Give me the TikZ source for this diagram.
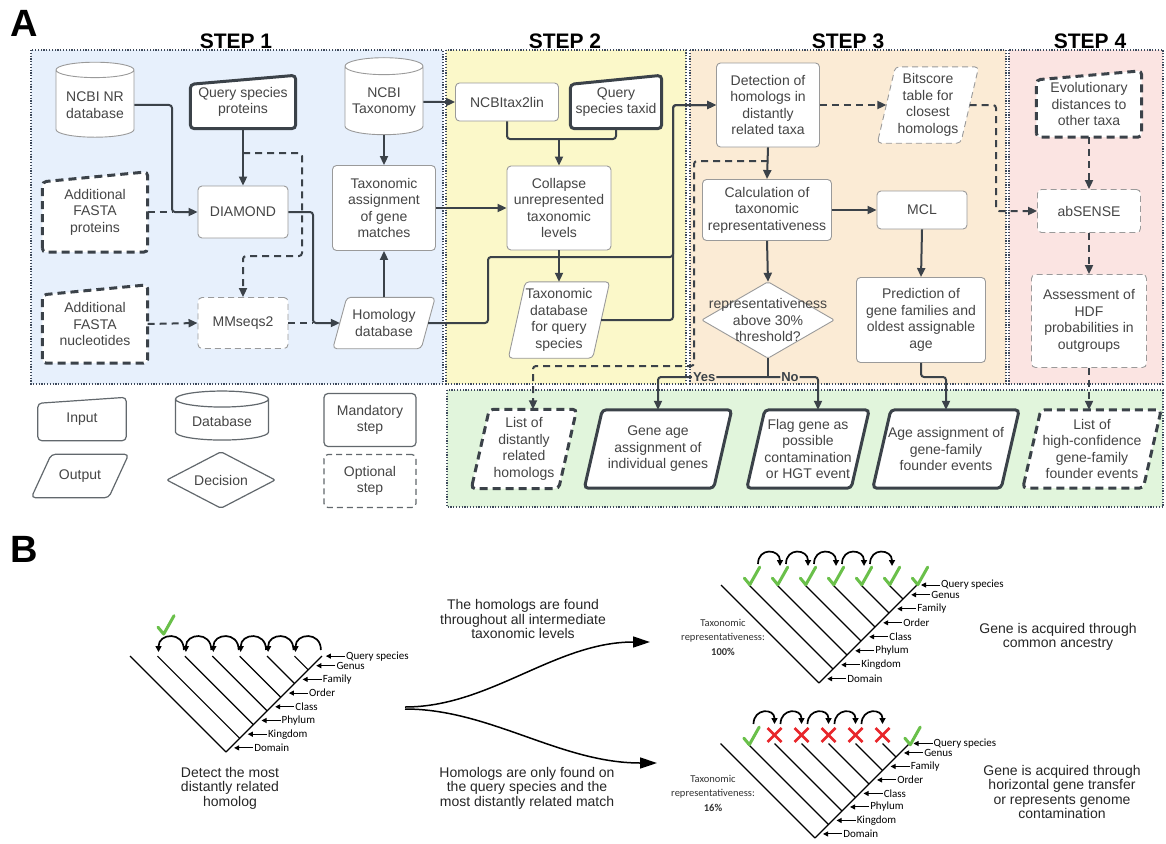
\documentclass[tikz,border=0pt]{standalone}
\usepackage{fontspec}
\setmainfont{Liberation Sans}
\newfontfamily\rankfont{Carlito}
\usetikzlibrary{positioning,calc,arrows.meta,shapes.geometric}

\definecolor{ink}{HTML}{3B4249}
\definecolor{boxtext}{HTML}{454545}
\definecolor{rim}{HTML}{9A9A9A}
\definecolor{dotrim}{HTML}{3E4A5C}
\definecolor{bluebg}{HTML}{E7F0FC}
\definecolor{yellowbg}{HTML}{FBF8C9}
\definecolor{orangebg}{HTML}{FBEBD5}
\definecolor{pinkbg}{HTML}{FBE4E2}
\definecolor{greenbg}{HTML}{E1F5DC}
\definecolor{tick}{HTML}{6AC04A}
\definecolor{wrong}{HTML}{E8262B}

\pgfdeclarelayer{back}
\pgfdeclarelayer{shapes}
\pgfsetlayers{back,shapes,main}

\tikzstyle{line} = [draw=ink,line width=2pt,rounded corners=3pt,-{Triangle[length=9pt,width=8pt]}]
\tikzstyle{link} = [draw=ink,line width=2pt,rounded corners=3pt]
\tikzstyle{dashedline} = [line,dash pattern=on 7pt off 5pt]
\tikzstyle{dashedlink} = [link,dash pattern=on 7pt off 5pt]
\tikzstyle{region} = [draw=dotrim,line width=1.6pt,dash pattern=on 1.2pt off 1.6pt]
\tikzstyle{steptitle} = [font=\bfseries\fontsize{21}{21}\selectfont]
\tikzstyle{panel} = [font=\bfseries\fontsize{38}{38}\selectfont]
\tikzstyle{boxfont} = [text=boxtext,align=center,font=\fontsize{14}{16.5}\selectfont,inner sep=2pt]
\tikzstyle{stepbox} = [boxfont,rectangle,rounded corners=4pt,draw=rim,line width=0.9pt,fill=white]
\tikzstyle{optbox} = [stepbox,dash pattern=on 6pt off 4pt]
\tikzstyle{dbase} = [boxfont,cylinder,shape border rotate=90,aspect=0.25,draw=rim,line width=0.9pt,fill=white]
\tikzstyle{shapetext} = [boxfont,inner sep=0pt]
\tikzstyle{keyrim} = [draw=ink,line width=3pt]
\tikzstyle{keydash} = [keyrim,dash pattern=on 8pt off 5pt]
\tikzstyle{thinrim} = [draw=rim,line width=0.9pt]
\tikzstyle{thindash} = [thinrim,dash pattern=on 6pt off 4pt]
\tikzstyle{legrim} = [draw=ink!80,line width=1.2pt]
\tikzstyle{yesno} = [fill=orangebg,text=ink,font=\bfseries\fontsize{13}{13}\selectfont,inner sep=1pt]
\tikzstyle{branch} = [draw=black,line width=1.2pt]
\tikzstyle{rankname} = [anchor=west,inner sep=1pt,font=\rankfont\fontsize{11}{11}\selectfont]
\tikzstyle{rankarrow} = [draw=black,line width=1pt,-{Triangle[length=5pt,width=5pt]}]
\tikzstyle{hop} = [draw=black,line width=1.7pt,-{Triangle[length=6pt,width=6pt]}]
\tikzstyle{btext} = [align=center,text=black!85,font=\fontsize{14}{14.5}\selectfont]
\tikzstyle{reptext} = [align=center,text=black!80,font=\rankfont\fontsize{10.5}{14.5}\selectfont]
\tikzstyle{splitarrow} = [draw=black,line width=1.5pt,-{Triangle[length=17pt,width=11pt]}]

% outlines drawn behind the text of a node
\newcommand{\inputshape}[3][]{%
  \begin{pgfonlayer}{shapes}
    \draw[fill=white,rounded corners=4pt,#1] (#2.south west) -- ([yshift=-#3pt]#2.north west)
      -- (#2.north east) -- (#2.south east) -- cycle;
  \end{pgfonlayer}}
\newcommand{\outputshape}[3][]{%
  \begin{pgfonlayer}{shapes}
    \draw[fill=white,rounded corners=4pt,#1] ([xshift=-#3pt]#2.south west) -- ([xshift=#3pt]#2.north west)
      -- ([xshift=#3pt]#2.north east) -- ([xshift=-#3pt]#2.south east) -- cycle;
  \end{pgfonlayer}}
\newcommand{\decisionshape}[2][]{%
  \begin{pgfonlayer}{shapes}
    \draw[fill=white,rounded corners=2pt,#1] (#2.west) -- (#2.north) -- (#2.east) -- (#2.south) -- cycle;
  \end{pgfonlayer}}
% tree of taxonomic levels, spacing \tstep
\newcommand{\taxtree}[3]{%
  \begin{scope}[shift={(#2,#3)}]
    \draw[branch] (0,0) -- ({7*\tstep},{-7*\tstep});
    \foreach \k in {0,...,6}
      \draw[branch] ({\k*\tstep},{-\k*\tstep}) -- ({(2*\k-7)*\tstep},{-7*\tstep});
    \foreach \lvl [count=\k from 0] in {Domain,Kingdom,Phylum,Class,Order,Family,Genus,Query species}{
      \pgfmathsetmacro\tpos{min(\k+0.3,7)}
      \node[rankname] (#1\k) at ({\tpos*\tstep+23},{-\tpos*\tstep}) {\lvl};
      \draw[rankarrow] (#1\k.west) -- ++(-19,0);
    }
  \end{scope}}

\begin{document}
\begin{tikzpicture}[x=1pt,y=-1pt,
  okmark/.pic={\draw[tick,line width=3pt,line cap=round,line join=round] (-7,1) -- (-2,7) -- (7,-9);},
  nomark/.pic={\draw[wrong,line width=2.6pt] (-7,-7) -- (7,7) (-7,7) -- (7,-7);}]
\useasboundingbox (0,0) rectangle (1166,843);

\begin{pgfonlayer}{back}
  \fill[white] (0,0) rectangle (1166,843);
  \draw[region,fill=bluebg] (31,50) rectangle (443,384);
  \draw[region,fill=yellowbg] (446,50) rectangle (686,384);
  \draw[region,fill=orangebg] (690,50) rectangle (1006,384);
  \draw[region,fill=pinkbg] (1009,50) rectangle (1163,384);
  \draw[region,fill=greenbg] (447,390) rectangle (1163,507);
\end{pgfonlayer}

\node[panel] (panelA) at (24,23) {A};
\node[panel] (panelB) at (24,549) {B};
\node[steptitle] (title1) at (236,41) {STEP 1};
\node[steptitle] (title2) at (565,41) {STEP 2};
\node[steptitle] (title3) at (848,41) {STEP 3};
\node[steptitle] (title4) at (1090,41) {STEP 4};

% step 1
\node[dbase,minimum width=78pt,minimum height=75pt] (nr) at (95,105) {NCBI NR\\database};
\node[shapetext,minimum width=105pt,minimum height=53pt] (qprot) at (243,102) {Query species\\proteins};
\inputshape[keyrim]{qprot}{9}
\node[shapetext,minimum width=105pt,minimum height=80pt] (addprot) at (95,212) {Additional\\FASTA\\proteins};
\inputshape[keydash]{addprot}{10}
\node[stepbox,minimum width=90pt,minimum height=52pt] (diamondtool) at (243,212) {DIAMOND};
\node[dbase,minimum width=78pt,minimum height=77pt] (ncbitax) at (384,102) {NCBI\\Taxonomy};
\node[stepbox,minimum width=103pt,minimum height=85pt] (taxassign) at (384,208) {Taxonomic\\assignment\\of gene\\matches};
\node[shapetext,minimum width=105pt,minimum height=78pt] (addnuc) at (95,324) {Additional\\FASTA\\nucleotides};
\inputshape[keydash]{addnuc}{10}
\node[optbox,minimum width=90pt,minimum height=51pt] (mmseqs) at (243,323) {MMseqs2};
\node[shapetext,minimum width=88pt,minimum height=51pt] (homdb) at (384,323) {Homology\\database};
\outputshape[thinrim]{homdb}{7}

% step 2
\node[stepbox,minimum width=103pt,minimum height=38pt] (tax2lin) at (507,102) {NCBItax2lin};
\node[shapetext,minimum width=91pt,minimum height=53pt] (qtaxid) at (616,102) {Query\\species taxid};
\inputshape[keyrim]{qtaxid}{9}
\node[stepbox,minimum width=104pt,minimum height=84pt] (collapse) at (559,208) {Collapse\\unrepresented\\taxonomic\\levels};
\node[shapetext,minimum width=84pt,minimum height=76pt] (taxdb) at (559,320) {Taxonomic\\database\\for query\\species};
\outputshape[thinrim]{taxdb}{8.5}

% step 3
\node[stepbox,minimum width=103pt,minimum height=84pt] (detect) at (768,105) {Detection of\\homologs in\\distantly\\related taxa};
\node[shapetext,minimum width=83pt,minimum height=76pt] (bitscore) at (928,105) {Bitscore\\table for\\closest\\homologs};
\outputshape[thindash]{bitscore}{9}
\node[stepbox,minimum width=129pt,minimum height=61pt] (calc) at (767,210) {Calculation of\\taxonomic\\representativeness};
\node[stepbox,minimum width=90pt,minimum height=38pt] (mcl) at (922,210) {MCL};
\node[shapetext,minimum width=132pt,minimum height=76pt] (decide) at (768,320) {representativeness\\above 30\%\\threshold?};
\decisionshape[thinrim]{decide}
\node[stepbox,minimum width=129pt,minimum height=85pt] (predict) at (921,320) {Prediction of\\gene families and\\oldest assignable\\age};

% step 4
\node[shapetext,minimum width=105pt,minimum height=66pt] (evodist) at (1089,104) {Evolutionary\\distances to\\other taxa};
\inputshape[keydash]{evodist}{9}
\node[optbox,minimum width=103pt,minimum height=43pt] (absense) at (1089,211) {abSENSE};
\node[optbox,minimum width=115pt,minimum height=93pt] (hdf) at (1089,321) {Assessment of\\HDF\\probabilities in\\outgroups};

% results
\node[shapetext,minimum width=87pt,minimum height=79pt] (distlist) at (524,449) {List of\\distantly\\related\\homologs};
\outputshape[keydash]{distlist}{9}
\node[shapetext,minimum width=129pt,minimum height=78pt] (geneage) at (658,449) {Gene age\\assignment of\\individual genes};
\outputshape[keyrim]{geneage}{9}
\node[shapetext,minimum width=104pt,minimum height=78pt] (flag) at (808,449) {Flag gene as\\possible\\contamination\\or HGT event};
\outputshape[keyrim]{flag}{9}
\node[shapetext,minimum width=128pt,minimum height=78pt] (familyage) at (946,449) {Age assignment of\\gene-family\\founder events};
\outputshape[keyrim]{familyage}{9}
\node[shapetext,minimum width=120pt,minimum height=78pt] (hclist) at (1092,449) {List of\\high-confidence\\gene-family\\founder events};
\outputshape[keydash]{hclist}{9}

% legend
\node[shapetext,minimum width=88pt,minimum height=43pt] (leginput) at (82,419) {Input};
\inputshape[legrim]{leginput}{6}
\node[shapetext,minimum width=77pt,minimum height=43pt] (legoutput) at (80,476) {Output};
\outputshape[legrim]{legoutput}{10}
\node[dbase,draw=ink!80,line width=1.2pt,minimum width=93pt,minimum height=49pt] (legdb) at (222,421) {Database};
\node[shapetext,minimum width=108pt,minimum height=56pt] (legdec) at (221,480) {Decision};
\decisionshape[legrim]{legdec}
\node[stepbox,draw=ink!80,line width=1.2pt,minimum width=92pt,minimum height=53pt] (legmand) at (370,420) {Mandatory\\step};
\node[optbox,draw=ink!80,line width=1.2pt,minimum width=92pt,minimum height=53pt] (legopt) at (370,481) {Optional\\step};

% connectors
\coordinate (jprot) at (172,212);
\coordinate (qsplit) at (243,153);
\coordinate (qbend) at (302,256);
\coordinate (jhom) at (313,323);
\coordinate (hbend) at (488,257);
\coordinate (hjoin) at (673,257);
\coordinate (tjoin) at (559,139);
\coordinate (dsplit) at (768,161);
\coordinate (dbend) at (694,366);
\coordinate (bsbend) at (996,211);
\coordinate (ynsplit) at (768,377);
\coordinate (pbend) at (921,377);

\draw[line] (nr.east) -| (jprot) -- (diamondtool.west);
\draw[dashedlink] (addprot.east) -- (jprot);
\draw[line] (qprot.south) -- (diamondtool.north);
\draw[dashedline] (qsplit) -| (qbend) -| (mmseqs.north);
\draw[line] (diamondtool.east) -| (jhom) -- (homdb.west);
\draw[dashedline] (addnuc.east) -- (mmseqs.west);
\draw[dashedlink] (mmseqs.east) -- (jhom);
\draw[line] (ncbitax.south) -- (taxassign.north);
\draw[line] (homdb.north) -- (taxassign.south);
\draw[line] (ncbitax.east) -- (tax2lin.west);
\draw[line] (taxassign.east) -- (collapse.west);
\draw[line] (homdb.east) -| (hbend) -- (hjoin) |- (detect.west);
\draw[line] (taxdb.east) -| (hjoin) |- (detect.west);
\draw[link] (tax2lin.south) |- (qtaxid.south |- tjoin) -- (qtaxid.south);
\draw[line] (tjoin) -- (collapse.north);
\draw[line] (collapse.south) -- (taxdb.north);
\draw[dashedline] (detect.east) -- (bitscore.west);
\draw[dashedline] (bitscore.east) -| (bsbend) -- (absense.west);
\draw[line] (detect.south) -- (calc.north);
\draw[dashedline] (dsplit) -| (dbend) -| ([xshift=9pt]distlist.north);
\draw[line] (calc.east) -- (mcl.west);
\draw[line] (calc.south) -- (decide.north);
\draw[line] (mcl.south) -- (predict.north);
\draw[link] (decide.south) -- (ynsplit);
\draw[line] (ynsplit) -| (geneage.north) node[pos=0.29,yesno] (yes) {Yes};
\draw[line] (ynsplit) -| ([xshift=10pt]flag.north) node[pos=0.22,yesno] (no) {No};
\draw[line] (predict.south) -- (pbend) -| (familyage.north);
\draw[dashedline] (evodist.south) -- (absense.north);
\draw[dashedline] (absense.south) -- (hdf.north);
\draw[dashedline] (hdf.south) -- (hdf.south |- hclist.north);

% panel B
\def\tstep{13.7}
\taxtree{lt}{226}{752}
\begin{scope}[shift={(226,752)}]
  \foreach \k in {1,...,6}
    \draw[hop] ({(2*\k-5)*\tstep-1},-102) .. controls +(0,-19) and +(0,-19) .. ({(2*\k-7)*\tstep+1},-100);
  \pic[scale=1.15] at (-60,-126) {okmark};
\end{scope}

\def\tstep{14}
\taxtree{ut}{819}{683}
\begin{scope}[shift={(819,683)}]
  \foreach \k in {1,...,5}
    \draw[hop] ({(2*\k-7)*\tstep+9},-119) .. controls +(0,-17) and +(0,-17) .. ({(2*\k-5)*\tstep+3},-117);
  \foreach \k in {1,...,7}
    \pic[scale=1.1] at ({(2*\k-7)*\tstep+3},-106) {okmark};
\end{scope}

\def\tstep{13.5}
\taxtree{bt}{815}{838}
\begin{scope}[shift={(815,838)}]
  \foreach \k in {1,...,5}
    \draw[hop] ({(2*\k-7)*\tstep+6},-114) .. controls +(0,-16) and +(0,-16) .. ({(2*\k-5)*\tstep},-114);
  \pic[scale=1.1] at ({-5*\tstep+4},-101) {okmark};
  \foreach \k in {2,...,6}
    \pic at ({(2*\k-7)*\tstep},-103) {nomark};
  \pic[scale=1.1] at ({7*\tstep+3},-101) {okmark};
\end{scope}

\node[reptext] (rep1) at (723,637) {Taxonomic\\representativeness:\\\textbf{100\%}};
\node[reptext] (rep2) at (713,793) {Taxonomic\\representativeness:\\\textbf{16\%}};
\node[btext] (detecttext) at (230,788) {Detect the most\\distantly related\\homolog};
\node[btext] (uptext) at (523,619) {The homologs are found\\throughout all intermediate\\taxonomic levels};
\node[btext] (lowtext) at (527,788) {Homologs are only found on\\the query species and the\\most distantly related match};
\node[btext] (commontext) at (1058,637) {Gene is acquired through\\common ancestry};
\node[btext] (hgttext) at (1062,792) {Gene is acquired through\\horizontal gene transfer\\or represents genome\\contamination};

\coordinate (fork) at (405,708);
\coordinate (upend) at (650,642);
\coordinate (lowend) at (657,763);
\draw[splitarrow] ([yshift=1pt]fork) .. controls (490,707) and (555,642) .. (upend);
\draw[splitarrow] ([yshift=-1pt]fork) .. controls (490,709) and (560,763) .. (lowend);
\end{tikzpicture}
\end{document}
